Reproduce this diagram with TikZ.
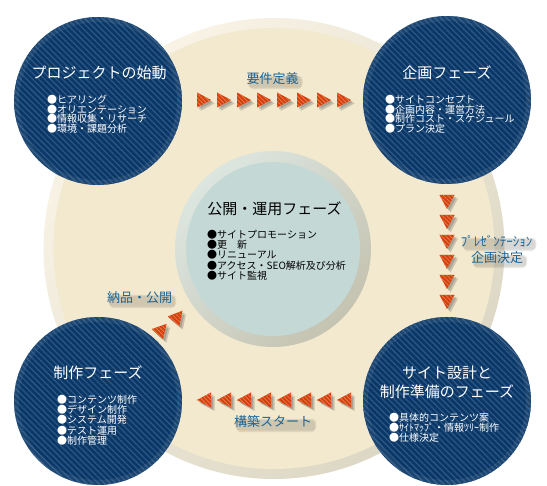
\documentclass[tikz,border=0pt]{standalone}
\usepackage{fontspec}
\setmainfont{Noto Sans CJK JP}
\usetikzlibrary{patterns.meta,calc}
\definecolor{dblue}{HTML}{0B3766}
\definecolor{dstripe}{HTML}{2A5686}
\definecolor{beige}{HTML}{F3E9CE}
\definecolor{ringlight}{HTML}{F9F4E6}
\definecolor{ringdark}{HTML}{DCD6C4}
\definecolor{teal}{HTML}{C4D9D6}
\definecolor{tlight}{HTML}{DCE6E0}
\definecolor{tdark}{HTML}{C5C3B1}
\definecolor{lblue}{HTML}{1B6496}
\definecolor{ared}{HTML}{D2400E}
\definecolor{astripe}{HTML}{EC7A48}
\pgfdeclarelayer{fg}
\pgfsetlayers{main,fg}
\tikzset{
  phase/.style={circle, minimum size=168pt, inner sep=0pt, fill=dblue,
    postaction={pattern={Lines[angle=-45,distance=4.2pt,line width=1.3pt]}, pattern color=dstripe}},
  ptitle/.style={text=white, font=\fontsize{15}{19}\selectfont, align=center, inner sep=0pt},
  plist/.style={text=white, font=\fontsize{10}{9.8}\selectfont, align=left, anchor=north west, inner sep=0pt},
  clist/.style={text=black, font=\fontsize{10}{10.25}\selectfont, align=left, anchor=north west, inner sep=0pt},
  lbl/.style={text=lblue, font=\fontsize{13}{17}\selectfont, inner sep=0pt},
  shblob/.style={fill=black!60!beige, opacity=.13, rounded corners=4pt},
}
\newcommand\mytri[3]{%
  \begin{scope}[shift={(#1+2,#2+2)},rotate=#3]
    \fill[black!70, opacity=.25] (-7,-7.5) -- (7,0) -- (-7,7.5) -- cycle;
  \end{scope}
  \begin{scope}[shift={(#1+3.5,#2+3.5)},rotate=#3]
    \fill[black!70, opacity=.25] (-7,-7.5) -- (7,0) -- (-7,7.5) -- cycle;
  \end{scope}
  \begin{scope}[shift={(#1,#2)},rotate=#3]
    \fill[ared, postaction={pattern={Lines[angle=-45,distance=3pt,line width=.8pt]}, pattern color=astripe}] (-7,-7.5) -- (7,0) -- (-7,7.5) -- cycle;
  \end{scope}}
\newcommand\mylabel[3]{%
  \begin{pgfonlayer}{fg}\node[lbl] (#1) at (#2) {#3};\end{pgfonlayer}
  \fill[shblob] ($(#1.south west)+(1.5,2.5)$) rectangle ($(#1.north east)+(4,3)$);
  \fill[shblob] ($(#1.south west)+(3,4)$) rectangle ($(#1.north east)+(3,4)$);}
\begin{document}
\begin{tikzpicture}[x=1pt,y=-1pt]
\useasboundingbox (0,0) rectangle (547,486);
\fill[white] (0,0) rectangle (547,486);
% big circle
\shade[top color=ringlight, bottom color=ringdark, shading angle=45] (274,248.5) circle (230.5);
\fill[beige] (274,248.5) circle (220.5);
% inner circle
\shade[top color=tlight, bottom color=tdark, shading angle=45] (273,249) circle (98);
\fill[teal] (273,249) circle (87);
\node[circle, minimum size=196pt, inner sep=0pt] (center) at (273,249) {};
% phase circles
\node[phase] (p1) at (98,101) {};
\node[phase] (p2) at (447,100) {};
\node[phase] (p3) at (447,401) {};
\node[phase] (p4) at (98,401) {};
\foreach \c in {p1,p2,p3,p4} {
  \draw[white, opacity=.07, line width=5pt] (\c.center) circle (81.5);
}
% titles
\node[ptitle] (t1) at (99,73) {プロジェクトの始動};
\node[ptitle] (t2) at (447,73) {企画フェーズ};
\node[ptitle] (t3) at (447,382.5) {サイト設計と\\制作準備のフェーズ};
\node[ptitle] (t4) at (98,373) {制作フェーズ};
\node[ptitle, text=black] (t0) at (274.5,209) {公開・運用フェーズ};
% lists
\node[plist] (l1) at (47,94.8) {●ヒアリング\\●オリエンテーション\\●情報収集・リサーチ\\●環境・課題分析};
\node[plist] (l2) at (385,94.8) {●サイトコンセプト\\●企画内容・運営方法\\●制作コスト・スケジュール\\●プラン決定};
\node[plist, font=\fontsize{10}{10}\selectfont] (l3) at (389,412.8) {●具体的コンテンツ案\\●ｻｲﾄﾏｯﾌﾟ・情報ﾂﾘｰ制作\\●仕様決定};
\node[plist, font=\fontsize{10}{10.25}\selectfont] (l4) at (57,394.8) {●コンテンツ制作\\●デザイン制作\\●システム開発\\●テスト運用\\●制作管理};
\node[clist] (l0) at (207,229.8) {●サイトプロモーション\\●更　新\\●リニューアル\\●アクセス・SEO解析及び分析\\●サイト監視};
% labels
\mylabel{a1}{272.5,79}{要件定義}
\mylabel{a2}{496.5,241}{ﾌﾟﾚｾﾞﾝﾃｰｼｮﾝ}
\mylabel{a3}{497,258}{企画決定}
\mylabel{a4}{273,422}{構築スタート}
\mylabel{a5}{139.5,298}{納品・公開}
% arrows
\foreach \i in {0,...,7} {
  \mytri{204+20*\i}{100}{0}
  \mytri{204+20*\i}{400}{180}
}
\foreach \i in {0,...,5} {
  \mytri{447}{202+20*\i}{-90}
}
\mytri{178}{316}{50}
\mytri{162}{329}{48}
\end{tikzpicture}
\end{document}
